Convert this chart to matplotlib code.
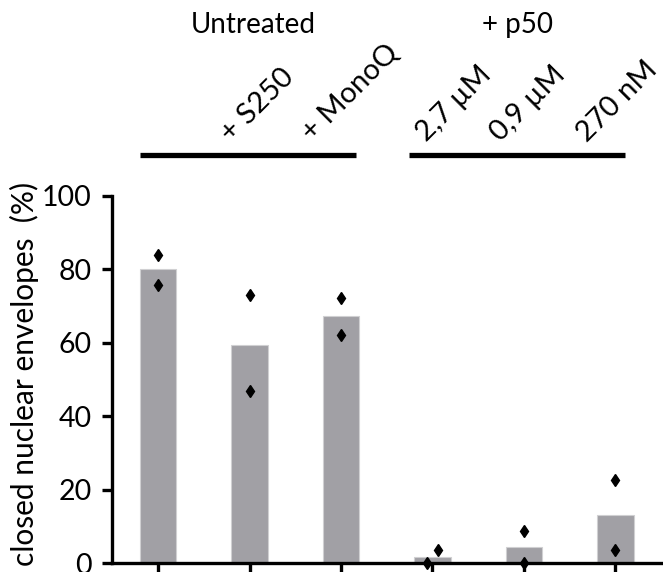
import matplotlib
matplotlib.use("Agg")
import matplotlib.pyplot as plt
import numpy as np

plt.rcParams['font.family'] = ['Lato', 'DejaVu Sans']

# values
conditions = ["", "+ S250", "+ MonoQ", "2,7 \u00b5M", "0,9 \u00b5M", "270 nM"]
bar_values = [80, 59.5, 67.3, 1.8, 4.3, 13.2]
points_high = [83.8, 73.0, 72.3, 3.7, 8.7, 22.7]
points_low = [75.7, 47.0, 62.2, 0.0, 0.0, 3.7]
groups = ["Untreated", "+ p50"]

x = np.arange(len(conditions))

fig = plt.figure(figsize=(6.63, 5.72), dpi=100)
ax = fig.add_axes([0.1685, 0.0152, 0.8426, 0.6427])

ax.bar(x, bar_values, width=0.4, color="#a1a0a5", edgecolor="#d0d0d2", linewidth=0.8, zorder=1)

# small sideways nudge only where the two points would overlap the axis
dx = np.array([0, 0, 0, 0.06, 0, 0])
ax.plot(x + dx, points_high, linestyle="none", marker="d", markersize=6.5,
        color="black", clip_on=False, zorder=3)
ax.plot(x - dx, points_low, linestyle="none", marker="d", markersize=6.5,
        color="black", clip_on=False, zorder=3)

ax.set_xlim(-0.506, 5.6)
ax.set_ylim(0, 100)
ax.set_yticks([0, 20, 40, 60, 80, 100])
ax.set_xticks(x)
ax.set_xticklabels([])
for s in ["top", "right"]:
    ax.spines[s].set_visible(False)
for s in ["left", "bottom"]:
    ax.spines[s].set_linewidth(2.4)
ax.spines["bottom"].set_zorder(2)
ax.tick_params(axis="both", width=2.4, length=7.5, direction="out", labelsize=20.5, pad=7)
ax.set_ylabel("closed nuclear envelopes  (%)", fontsize=21.5)
ax.yaxis.set_label_coords(-0.13, 0.515)

# group bars and labels above the plot
ax.plot([-0.2, 2.16], [111, 111], color="black", linewidth=3.8, clip_on=False, solid_capstyle="butt")
ax.plot([2.74, 5.1], [111, 111], color="black", linewidth=3.8, clip_on=False, solid_capstyle="butt")
ax.text(1.04, 146.5, groups[0], ha="center", va="center", fontsize=20)
ax.text(3.93, 146.5, groups[1], ha="center", va="center", fontsize=20)

label_dx = [0, 0.09, 0.1, 0.23, 0.04, 0.02]
for i, lab in enumerate(conditions):
    if lab:
        ax.text(x[i] + label_dx[i], 113.5, lab, rotation=45, ha="center", va="bottom", fontsize=21)

fig.savefig("out.png", dpi=100)
